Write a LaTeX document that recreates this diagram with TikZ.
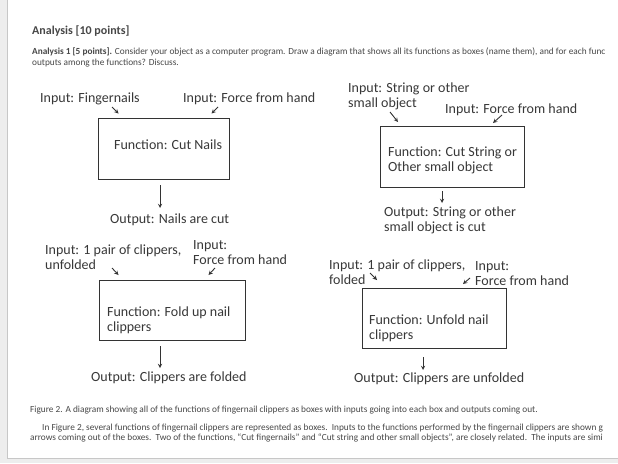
\documentclass[tikz,border=0pt]{standalone}
\usepackage{fontspec}
\setmainfont{Carlito}
\usetikzlibrary{positioning}

\begin{document}
\begin{tikzpicture}[x=1pt, y=-1pt, font=\fontsize{14}{15}\selectfont]
		\tikzstyle{func} = [rectangle, draw=black!80, line width=1.3pt, anchor=north west, inner sep=0pt];
		\tikzstyle{io} = [align=left, anchor=base west, inner sep=0pt, text=black!78];
		\tikzstyle{doc} = [anchor=base west, inner sep=0pt, text=black!72, font=\fontsize{9.3}{10}\selectfont];
		\tikzstyle{flow} = [every edge/.style={draw=black!80, line width=0.9pt, -stealth}];
		
		\useasboundingbox (0,0) rectangle (618,463);
		\clip (0,0) rectangle (618,463);
		% page and its edge
		\fill[black!7] (0,0) rectangle (618,463);
		\fill[white] (7,0) rectangle (618,458);
		\draw[black!22, line width=0.8pt] (7,0) -- (7,458) -- (618,458);
		
		% text above the figure
		\node[doc, font=\bfseries\fontsize{12}{12}\selectfont](title) at (32,34.5){Analysis [10 points]};
		\node[doc](question) at (32,54){\textbf{Analysis 1 [5 points].} Consider your object as a computer program. Draw a diagram that shows all its functions as boxes (name them), and for each func};
		\node[doc](question2) at (32,65){outputs among the functions? Discuss.};
		
		% cut nails
		\node[io](in nails) at (40,102){Input: Fingernails};
		\node[io](in force1) at (183,102){Input: Force from hand};
		\node[func, minimum width=131pt, minimum height=61pt](cut nails) at (98,118){};
		\node[io](cut nails text) at (114,149){Function: Cut Nails};
		\node[io](out nails) at (110,223){Output: Nails are cut};
		\coordinate (t1) at (112,107); \coordinate (h1) at (118.5,113.5);
		\coordinate (t2) at (218,107); \coordinate (h2) at (211.5,113.5);
		\coordinate (t3) at (160,185); \coordinate (h3) at (160,208);
		
		% cut string
		\node[io](in string) at (348,107){Input: String or other\\small object};
		\node[io](in force2) at (445,113){Input: Force from hand};
		\node[func, minimum width=144pt, minimum height=61pt](cut string) at (380,126){};
		\node[io](cut string text) at (388,171){Function: Cut String or\\Other small object};
		\node[io](out string) at (384,231){Output: String or other\\small object is cut};
		\coordinate (t4) at (390,112); \coordinate (h4) at (398,122);
		\coordinate (t5) at (502,115); \coordinate (h5) at (493,123);
		\coordinate (t6) at (442,191); \coordinate (h6) at (442,203);
		
		% fold up
		\node[io](in unfolded) at (45,269){Input: 1 pair of clippers,\\unfolded};
		\node[io](in force3) at (193,264){Input:\\Force from hand};
		\node[func, minimum width=146pt, minimum height=60pt](fold up) at (99,280){};
		\node[io](fold up text) at (107,331){Function: Fold up nail\\clippers};
		\node[io](out folded) at (91,381){Output: Clippers are folded};
		\coordinate (t7) at (112,268); \coordinate (h7) at (118.5,275);
		\coordinate (t8) at (215,268); \coordinate (h8) at (208.5,275);
		\coordinate (t9) at (160,346); \coordinate (h9) at (160,368);
		
		% unfold
		\node[io](in folded) at (329,284){Input: 1 pair of clippers,\\folded};
		\node[io](in force4) at (475,285){Input:\\Force from hand};
		\node[func, minimum width=144pt, minimum height=60pt](unfold) at (362,288){};
		\node[io](unfold text) at (369,339){Function: Unfold nail\\clippers};
		\node[io](out unfolded) at (354,382){Output: Clippers are unfolded};
		\coordinate (t10) at (370,273); \coordinate (h10) at (377,280);
		\coordinate (t11) at (470,278); \coordinate (h11) at (463,284);
		\coordinate (t12) at (423,357); \coordinate (h12) at (423,370);
		
		\path[flow] (t1) edge (h1) (t2) edge (h2) (t3) edge (h3)
		(t4) edge (h4) (t5) edge (h5) (t6) edge (h6)
		(t7) edge (h7) (t8) edge (h8) (t9) edge (h9)
		(t10) edge (h10) (t11) edge (h11) (t12) edge (h12);
		
		% caption and text below
		\node[doc](caption) at (30,412.5){Figure 2. A diagram showing all of the functions of fingernail clippers as boxes with inputs going into each box and outputs coming out.};
		\node[doc](para1) at (42,430){In Figure 2, several functions of fingernail clippers are represented as boxes.\ \ Inputs to the functions performed by the fingernail clippers are shown g};
		\node[doc](para2) at (30,440){arrows coming out of the boxes.\ \ Two of the functions, “Cut fingernails” and “Cut string and other small objects”, are closely related.\ \ The inputs are simi};
\end{tikzpicture}
\end{document}
